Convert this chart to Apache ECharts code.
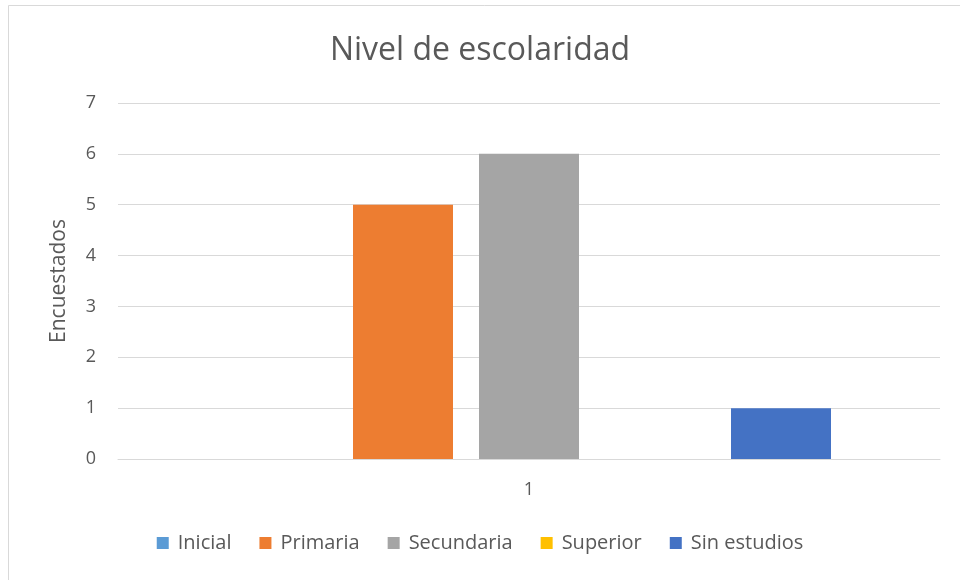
<!DOCTYPE html>
<html>
<head>
<meta charset="utf-8">
<script src="https://cdn.jsdelivr.net/npm/echarts@6/dist/echarts.min.js"></script>
<style>
  html, body { margin: 0; padding: 0; background: #fff; }
  #chart { width: 960px; height: 580px; }
</style>
</head>
<body>
<div id="chart"></div>
<script>
// datos
var categories = ['1'];
var seriesNames = ['Inicial', 'Primaria', 'Secundaria', 'Superior', 'Sin estudios'];
var seriesValues = [[0], [5], [6], [0], [1]];
var seriesColors = ['#5B9BD5', '#ED7D31', '#A5A5A5', '#FFC000', '#4472C4'];

var font = 'Open Sans';
var txt = '#595959';

var series = seriesNames.map(function (name, i) {
    return {
        name: name,
        type: 'bar',
        data: seriesValues[i],
        barWidth: 100,
        barGap: '26%',
        itemStyle: { color: seriesColors[i] }
    };
});

var chart = echarts.init(document.getElementById('chart'));
chart.setOption({
    backgroundColor: '#fff',
    animation: false,
    graphic: [{
        type: 'rect',
        shape: { x: 8.5, y: 5.5, width: 980, height: 600 },
        style: { fill: 'none', stroke: '#d9d9d9', lineWidth: 1 }
    }],
    title: {
        text: 'Nivel de escolaridad',
        left: 'center',
        top: 30,
        textStyle: { fontFamily: font, fontSize: 32, fontWeight: 'normal', color: txt }
    },
    legend: {
        bottom: 22,
        left: 'center',
        itemWidth: 12,
        itemHeight: 12,
        itemGap: 28,
        icon: 'rect',
        selectedMode: false,
        textStyle: { fontFamily: font, fontSize: 20, color: txt, padding: [0, 0, 0, 4] },
        data: seriesNames
    },
    grid: { left: 118, right: 20, top: 103, bottom: 121 },
    xAxis: {
        type: 'category',
        data: categories,
        axisLine: { show: true, lineStyle: { color: '#d9d9d9' } },
        axisTick: { show: false },
        axisLabel: { fontFamily: font, fontSize: 18, color: txt, margin: 22 }
    },
    yAxis: {
        type: 'value',
        min: 0,
        max: 7,
        interval: 1,
        name: 'Encuestados',
        nameLocation: 'middle',
        nameGap: 48,
        nameTextStyle: { fontFamily: font, fontSize: 21, color: txt },
        axisLine: { show: false },
        axisTick: { show: false },
        axisLabel: { fontFamily: font, fontSize: 18, color: txt, margin: 22 },
        splitLine: { lineStyle: { color: '#d9d9d9' } }
    },
    series: series
});
</script>
</body>
</html>
